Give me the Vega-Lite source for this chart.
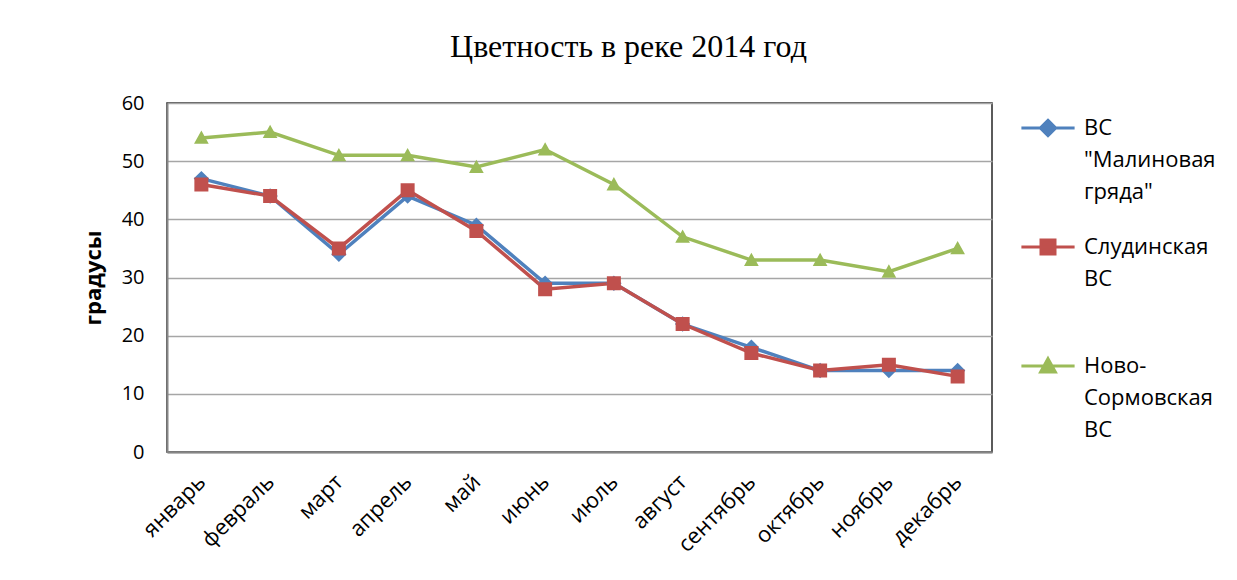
{
  "$schema": "https://vega.github.io/schema/vega-lite/v6.json",
  "width": 825,
  "height": 349,
  "autosize": {"type": "none"},
  "padding": {"left": 167, "top": 103, "right": 245, "bottom": 128},
  "background": "white",
  "title": {
    "text": "Цветность в реке 2014 год",
    "font": "Liberation Serif",
    "fontSize": 32,
    "fontWeight": "normal",
    "color": "black",
    "anchor": "middle",
    "dx": 49,
    "offset": 29
  },
  "config": {
    "view": {"stroke": "#262626", "strokeWidth": 1.5},
    "font": "Open Sans"
  },
  "data": {
    "values": [
      {"month": "январь", "series": "ВС \"Малиновая гряда\"", "value": 47},
      {"month": "февраль", "series": "ВС \"Малиновая гряда\"", "value": 44},
      {"month": "март", "series": "ВС \"Малиновая гряда\"", "value": 34},
      {"month": "апрель", "series": "ВС \"Малиновая гряда\"", "value": 44},
      {"month": "май", "series": "ВС \"Малиновая гряда\"", "value": 39},
      {"month": "июнь", "series": "ВС \"Малиновая гряда\"", "value": 29},
      {"month": "июль", "series": "ВС \"Малиновая гряда\"", "value": 29},
      {"month": "август", "series": "ВС \"Малиновая гряда\"", "value": 22},
      {"month": "сентябрь", "series": "ВС \"Малиновая гряда\"", "value": 18},
      {"month": "октябрь", "series": "ВС \"Малиновая гряда\"", "value": 14},
      {"month": "ноябрь", "series": "ВС \"Малиновая гряда\"", "value": 14},
      {"month": "декабрь", "series": "ВС \"Малиновая гряда\"", "value": 14},
      {"month": "январь", "series": "Слудинская ВС", "value": 46},
      {"month": "февраль", "series": "Слудинская ВС", "value": 44},
      {"month": "март", "series": "Слудинская ВС", "value": 35},
      {"month": "апрель", "series": "Слудинская ВС", "value": 45},
      {"month": "май", "series": "Слудинская ВС", "value": 38},
      {"month": "июнь", "series": "Слудинская ВС", "value": 28},
      {"month": "июль", "series": "Слудинская ВС", "value": 29},
      {"month": "август", "series": "Слудинская ВС", "value": 22},
      {"month": "сентябрь", "series": "Слудинская ВС", "value": 17},
      {"month": "октябрь", "series": "Слудинская ВС", "value": 14},
      {"month": "ноябрь", "series": "Слудинская ВС", "value": 15},
      {"month": "декабрь", "series": "Слудинская ВС", "value": 13},
      {"month": "январь", "series": "Ново-Сормовская ВС", "value": 54},
      {"month": "февраль", "series": "Ново-Сормовская ВС", "value": 55},
      {"month": "март", "series": "Ново-Сормовская ВС", "value": 51},
      {"month": "апрель", "series": "Ново-Сормовская ВС", "value": 51},
      {"month": "май", "series": "Ново-Сормовская ВС", "value": 49},
      {"month": "июнь", "series": "Ново-Сормовская ВС", "value": 52},
      {"month": "июль", "series": "Ново-Сормовская ВС", "value": 46},
      {"month": "август", "series": "Ново-Сормовская ВС", "value": 37},
      {"month": "сентябрь", "series": "Ново-Сормовская ВС", "value": 33},
      {"month": "октябрь", "series": "Ново-Сормовская ВС", "value": 33},
      {"month": "ноябрь", "series": "Ново-Сормовская ВС", "value": 31},
      {"month": "декабрь", "series": "Ново-Сормовская ВС", "value": 35}
    ]
  },
  "encoding": {
    "x": {
      "field": "month",
      "type": "ordinal",
      "sort": ["январь", "февраль", "март", "апрель", "май", "июнь", "июль", "август", "сентябрь", "октябрь", "ноябрь", "декабрь"],
      "scale": {"type": "point", "padding": 0.5},
      "axis": {
        "title": null,
        "labelAngle": -45,
        "labelAlign": "right",
        "labelBaseline": "middle",
        "labelFontSize": 22,
        "labelColor": "black",
        "labelPadding": 26,
        "ticks": false,
        "domainColor": "#868686",
        "domainWidth": 2,
        "grid": false
      }
    },
    "y": {
      "field": "value",
      "type": "quantitative",
      "scale": {"domain": [0, 60]},
      "axis": {
        "title": "градусы",
        "titleFontSize": 22,
        "titleFontWeight": "bold",
        "titleColor": "black",
        "titlePadding": 16,
        "values": [0, 10, 20, 30, 40, 50, 60],
        "labelFontSize": 20,
        "labelColor": "black",
        "labelPadding": 23,
        "ticks": false,
        "domainColor": "#868686",
        "domainWidth": 2,
        "gridColor": "#a6a6a6",
        "gridWidth": 1.5
      }
    },
    "color": {
      "field": "series",
      "type": "nominal",
      "scale": {
        "domain": ["ВС \"Малиновая гряда\"", "Слудинская ВС", "Ново-Сормовская ВС"],
        "range": ["#4F81BD", "#C0504D", "#9BBB59"]
      },
      "legend": {
        "title": null,
        "orient": "right",
        "offset": 31,
        "padding": 14,
        "symbolSize": 196,
        "labelOffset": 25,
        "labelFontSize": 22,
        "labelColor": "black",
        "labelLimit": 200,
        "gridAlign": "all",
        "rowPadding": 30,
        "labelExpr": "datum.label == 'Слудинская ВС' ? ['Слудинская', 'ВС'] : (datum.label == 'Ново-Сормовская ВС' ? ['Ново-', 'Сормовская', 'ВС'] : ['ВС', '\"Малиновая', 'гряда\"'])",
        "encode": {
          "labels": {"update": {"lineHeight": {"value": 32}}},
          "symbols": {"update": {"stroke": {"scale": "color", "field": "value"}, "strokeWidth": {"value": 3}}}
        }
      }
    }
  },
  "layer": [
    {"mark": {"type": "line", "strokeWidth": 3.5}},
    {
      "mark": {"type": "point", "filled": true, "size": 196, "strokeWidth": 0, "opacity": 1},
      "encoding": {
        "shape": {
          "field": "series",
          "type": "nominal",
          "scale": {
            "domain": ["ВС \"Малиновая гряда\"", "Слудинская ВС", "Ново-Сормовская ВС"],
            "range": [
              "M-3.8,0H3.8M0,-1.1L1.1,0L0,1.1L-1.1,0Z",
              "M-3.8,0H3.8M-1,-1H1V1H-1Z",
              "M-3.8,0H3.8M0,-1.05L1.05,0.85H-1.05Z"
            ]
          }
        }
      }
    }
  ]
}
